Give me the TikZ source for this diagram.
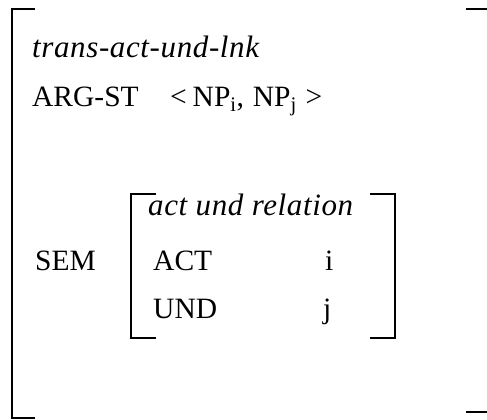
\documentclass[tikz,border=0pt]{standalone}
\usepackage{fontspec}
\setmainfont{Liberation Serif}
\begin{document}
\begin{tikzpicture}[x=1pt,y=-1pt,
  lbl/.style={anchor=base west,inner sep=0pt,font=\fontsize{29.5}{34}\selectfont},
  typ/.style={anchor=base west,inner sep=0pt,
    font=\fontsize{31}{36}\selectfont\itshape\addfontfeature{LetterSpace=2}},
  brk/.style={line width=2pt}]
\useasboundingbox (0,0) rectangle (487,420);
% outer feature structure brackets
\draw[brk] (35,9) -- (11.5,9) -- (11.5,418) -- (35,418);
\draw[brk] (466,9) -- (487,9);
\draw[brk] (466,412) -- (487,412);
% outer features
\node[typ] (type) at (32,58) {trans-act-und-lnk};
\node[lbl] (argst) at (32,106) {ARG-ST};
\node[lbl] (arglist) at (170,106)
  {<\hspace{0.2em}NP\textsubscript{i},\hspace{0.3em}NP\textsubscript{j}\hspace{0.3em}>};
\node[lbl] (sem) at (35,270) {SEM};
% inner relation brackets
\draw[brk] (156,194) -- (131,194) -- (131,338) -- (156,338);
\draw[brk] (370,194) -- (395,194) -- (395,338) -- (370,338);
% inner features
\node[typ] (reltype) at (148,215) {act und relation};
\node[lbl] (act) at (153,270) {ACT};
\node[lbl] (actval) at (325,270) {i};
\node[lbl] (und) at (153,318) {UND};
\node[lbl] (undval) at (323,318) {j};
\end{tikzpicture}
\end{document}
